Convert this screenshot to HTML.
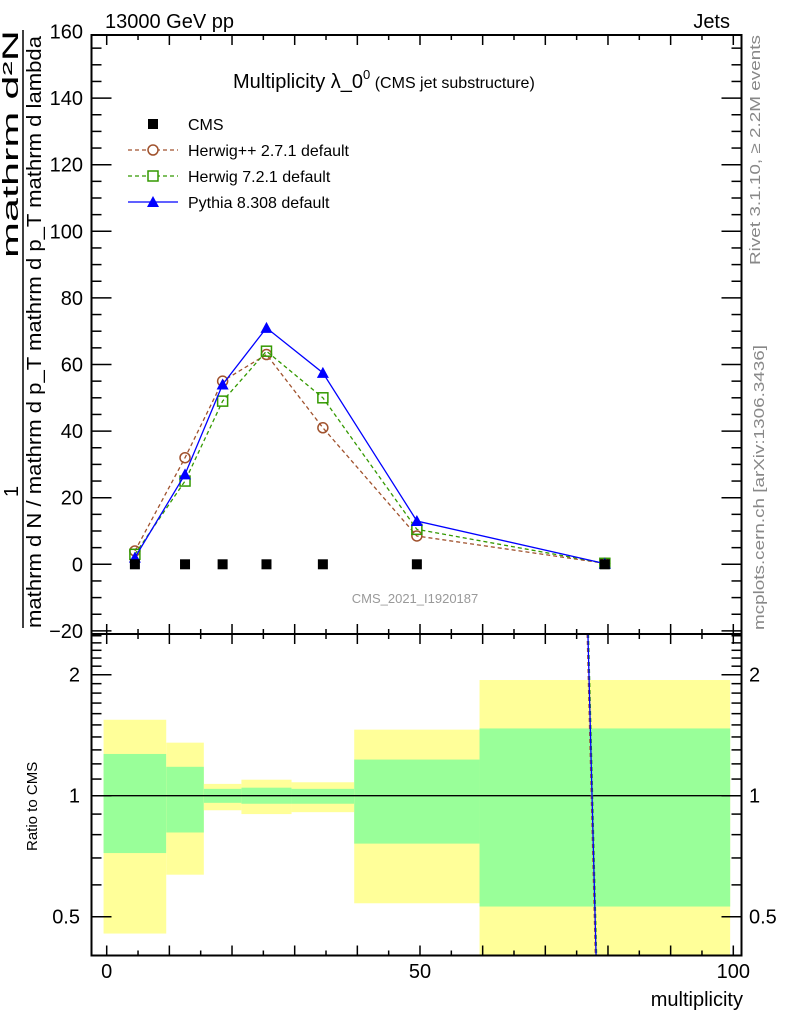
<!DOCTYPE html>
<html><head><meta charset="utf-8"><style>
body{margin:0;background:#fff}
svg{display:block;font-family:"Liberation Sans",sans-serif}
</style></head><body>
<svg id="c" width="786" height="1024" viewBox="0 0 786 1024"></svg>
<script>
const categories=[4.5,12.5,18.5,25.5,34.5,49.5,79.5];
const binEdges=[-0.5,9.5,15.5,21.5,29.5,39.5,59.5,99.5];
const cmsValues=[0,0,0,0,0,0,0];
const herwigppValues=[4,32,55,63,41,8.5,0.3];
const herwig7Values=[3,25,49,64,50,10.5,0.3];
const pythiaValues=[2,27,54,71,57.5,13,0.2];
const yellowLo=[0.454,0.636,0.92,0.90,0.91,0.54,0.3];
const yellowHi=[1.545,1.355,1.07,1.096,1.08,1.46,1.94];
const greenLo=[0.72,0.81,0.96,0.955,0.955,0.76,0.53];
const greenHi=[1.27,1.18,1.04,1.047,1.04,1.23,1.47];
const yTicks=[-20,0,20,40,60,80,100,120,140,160];
const xTicks=[0,50,100];
const rTicks=[0.5,1,2];
// ratio artefact line (ratio to zero-valued data): x in data units at top/bottom
const ratioLineX=[76.8,78.1];

const S=document.getElementById('c');const NS='http://www.w3.org/2000/svg';
function el(t,a,p){const e=document.createElementNS(NS,t);for(const k in a)e.setAttribute(k,a[k]);(p||S).appendChild(e);return e;}
const L=91.5,R=741.5,T=35,MB=634,RB=955.5;
const xs=v=>106.7+6.266*v;
const ys=v=>564.3-3.33*v;
const rs=v=>795.7-121*Math.log2(v);

const defs=el('defs',{});const cp=el('clipPath',{id:'rc'},defs);el('rect',{x:L,y:MB,width:R-L,height:RB-MB},cp);
const cp2=el('clipPath',{id:'mc'},defs);el('rect',{x:L,y:T,width:R-L,height:MB-T},cp2);

const bands=el('g',{'clip-path':'url(#rc)'});


for(let i=0;i<categories.length;i++){
  const x0=xs(binEdges[i]),x1=xs(binEdges[i+1]);
  const y=el('rect',{x:x0,y:rs(yellowHi[i]),width:x1-x0,height:rs(yellowLo[i])-rs(yellowHi[i]),fill:'#ffff99'},bands);
  
  
  const g=el('rect',{x:x0,y:rs(greenHi[i]),width:x1-x0,height:rs(greenLo[i])-rs(greenHi[i]),fill:'#99ff99'},bands);
  
  
}
el('line',{x1:L,x2:R,y1:rs(1),y2:rs(1),stroke:'#000','stroke-width':1.3});
const rl=el('g',{'clip-path':'url(#rc)'});
el('line',{x1:xs(ratioLineX[0])-0.8,y1:MB,x2:xs(ratioLineX[1])-0.8,y2:RB,stroke:'#a0522d','stroke-width':1.2,'stroke-dasharray':'4,3'},rl);
el('line',{x1:xs(ratioLineX[0])+0.6,y1:MB,x2:xs(ratioLineX[1])+0.6,y2:RB,stroke:'#339900','stroke-width':1.2,'stroke-dasharray':'4,3'},rl);
const bl=el('line',{x1:xs(ratioLineX[0]),y1:MB,x2:xs(ratioLineX[1]),y2:RB,stroke:'#0000ff','stroke-width':1.3},rl);



el('rect',{x:L,y:T,width:R-L,height:MB-T,fill:'none',stroke:'#000','stroke-width':2});
el('rect',{x:L,y:MB,width:R-L,height:RB-MB,fill:'none',stroke:'#000','stroke-width':2});

for(let v=0;v<=100;v+=5){const big=v%10==0;const x=xs(v);const h=big?10:5;
  [[T,1],[MB,-1],[MB,1],[RB,-1]].forEach(([y,d])=>el('line',{x1:x,x2:x,y1:y,y2:y+d*h,stroke:'#000','stroke-width':1.5}));}
for(let v=-20;v<=160;v+=5){const big=v%20==0;const y=ys(v);if(y<T||y>MB)continue;const h=big?20:10;
  el('line',{x1:L,x2:L+h,y1:y,y2:y,stroke:'#000','stroke-width':1.5});el('line',{x1:R,x2:R-h,y1:y,y2:y,stroke:'#000','stroke-width':1.5});}
yTicks.forEach(v=>{const t=el('text',{x:83,y:ys(v)+7,'text-anchor':'end','font-size':20});t.textContent=v<0?'−'+(-v):v;
  });
const rminor=[0.4,0.5,0.6,0.7,0.8,0.9,1,1.1,1.2,1.3,1.4,1.5,1.6,1.7,1.8,1.9,2,2.1,2.2,2.3,2.4,2.5];
rminor.forEach(v=>{const y=rs(v);if(y<MB||y>RB)return;const big=rTicks.includes(v);const h=big?20:10;
  el('line',{x1:L,x2:L+h,y1:y,y2:y,stroke:'#000','stroke-width':1.5});el('line',{x1:R,x2:R-h,y1:y,y2:y,stroke:'#000','stroke-width':1.5});});
rTicks.forEach(v=>{const t=el('text',{x:80,y:rs(v)+7,'text-anchor':'end','font-size':20});t.textContent=v;
  
  const t2=el('text',{x:749,y:rs(v)+7,'font-size':20});t2.textContent=v;
  });
xTicks.forEach(v=>{const t=el('text',{x:xs(v),y:978,'text-anchor':'middle','font-size':20});t.textContent=v;
  });

const mg=el('g',{'clip-path':'url(#mc)'});
function series(vals,color,dash,marker,name,drawLine){
  if(drawLine){
  const pts=vals.map((v,i)=>xs(categories[i])+','+ys(v)).join(' ');
  const pl=el('polyline',{points:pts,fill:'none',stroke:color,'stroke-width':1.3,'stroke-dasharray':dash},mg);
  
  }
  vals.forEach((v,i)=>{const x=xs(categories[i]),y=ys(v);let m;
    if(marker=='o')m=el('circle',{cx:x,cy:y,r:5,fill:'none',stroke:color,'stroke-width':1.5},mg);
    else if(marker=='s')m=el('rect',{x:x-5,y:y-5,width:10,height:10,fill:'none',stroke:color,'stroke-width':1.5},mg);
    else if(marker=='t')m=el('polygon',{points:`${x},${y-6} ${x-6},${y+5} ${x+6},${y+5}`,fill:color},mg);
    else m=el('rect',{x:x-5,y:y-5,width:10,height:10,fill:color},mg);
    
    });
}
series(herwigppValues,'#a0522d','4,3','o','herwigpp',true);
series(herwig7Values,'#339900','4,3','s','herwig7',true);
series(pythiaValues,'#0000ff','','t','pythia',true);
series(cmsValues,'#000','','q','cms',false);

const lg=el('g',{});
const ly=[124,150,176,202];
el('rect',{x:148,y:ly[0]-5,width:10,height:10,fill:'#000'},lg);
el('line',{x1:128,x2:178,y1:ly[1],y2:ly[1],stroke:'#a0522d','stroke-dasharray':'4,3','stroke-width':1.3},lg);
el('circle',{cx:153,cy:ly[1],r:5,fill:'#fff',stroke:'#a0522d','stroke-width':1.5},lg);
el('line',{x1:128,x2:178,y1:ly[2],y2:ly[2],stroke:'#339900','stroke-dasharray':'4,3','stroke-width':1.3},lg);
el('rect',{x:148,y:ly[2]-5,width:10,height:10,fill:'#fff',stroke:'#339900','stroke-width':1.5},lg);
el('line',{x1:128,x2:178,y1:ly[3],y2:ly[3],stroke:'#0000ff','stroke-width':1.3},lg);
el('polygon',{points:`153,${ly[3]-6} 147,${ly[3]+5} 159,${ly[3]+5}`,fill:'#0000ff'},lg);
['CMS','Herwig++ 2.7.1 default','Herwig 7.2.1 default','Pythia 8.308 default'].forEach((s,i)=>{
  const t=el('text',{x:188,y:ly[i]+6,'font-size':16},lg);t.textContent=s;
  });
</script>
<svg width="786" height="1024" style="position:absolute;left:0;top:0" font-family="Liberation Sans, sans-serif">
<text x="105" y="28" font-size="20">13000 GeV pp</text>
<text x="730" y="28" font-size="20" text-anchor="end">Jets</text>
<text x="233" y="88" font-size="20">Multiplicity λ_0<tspan dy="-9" font-size="13">0</tspan><tspan dy="9" font-size="16"> (CMS jet substructure)</tspan></text>
<text x="415" y="603" font-size="13" fill="#999" text-anchor="middle">CMS_2021_I1920187</text>
<text transform="translate(760,265) rotate(-90)" font-size="15" fill="#888" textLength="230" lengthAdjust="spacingAndGlyphs">Rivet 3.1.10, ≥ 2.2M events</text>
<text transform="translate(764,630) rotate(-90)" font-size="15" fill="#888" textLength="285" lengthAdjust="spacingAndGlyphs">mcplots.cern.ch [arXiv:1306.3436]</text>
<text transform="translate(18,258) rotate(-90)" font-size="22" textLength="228" lengthAdjust="spacingAndGlyphs">mathrm d²N</text>
<text transform="translate(18,497) rotate(-90)" font-size="20">1</text>
<line x1="23" y1="30" x2="23" y2="628" stroke="#000" stroke-width="1.5"/>
<text transform="translate(41,628) rotate(-90)" font-size="20" textLength="592" lengthAdjust="spacingAndGlyphs">mathrm d N / mathrm d p_T mathrm d p_T mathrm d lambda</text>
<text transform="translate(37,851) rotate(-90)" font-size="15">Ratio to CMS</text>
<text x="743" y="1006" font-size="20" text-anchor="end">multiplicity</text>
</svg>
</body></html>
